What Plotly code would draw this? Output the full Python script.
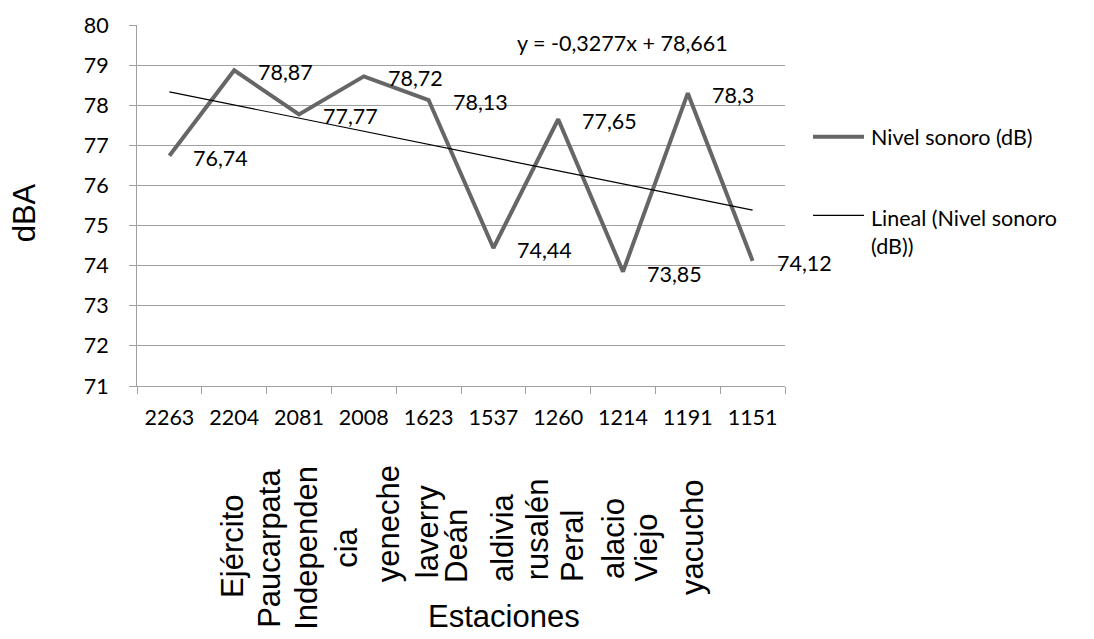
import plotly.graph_objects as go

# Noise level per monitoring station
stations = ["2263", "2204", "2081", "2008", "1623", "1537", "1260", "1214", "1191", "1151"]
nivel_db = [76.74, 78.87, 77.77, 78.72, 78.13, 74.44, 77.65, 73.85, 78.3, 74.12]

# Linear trend (x = 1..n) as reported on the chart
trend_slope = -0.3277
trend_intercept = 78.661

# Station names printed under the axis (as they appear, cut by the label box)
station_names = ["Ejército", "Paucarpata", "Independen<br>cia", "yeneche", "laverry", "Deán",
                 "aldivia", "rusalén", "Peral", "alacio", "Viejo", "yacucho"]
name_x_px = [233, 270, 327, 388, 427, 457, 502, 537, 573, 613, 647, 692]
name_y_px = [550, 552, 551, 527, 534, 549, 540, 532, 549, 542, 551, 541]

W, H = 1094, 639
PL, PR, PT, PB = 137, 785, 18, 386  # plot area in pixels


def px_x(p):
    return (p - PL) / (PR - PL)


def px_y(p):
    return (PB - p) / (PB - PT)


CAL = "Lato"
ARIAL = "Liberation Sans"
LINE_GRAY = "#666666"
GRID_GRAY = "#a0a0a0"

idx = list(range(len(stations)))
trend_y = [trend_slope * (k + 1) + trend_intercept for k in idx]

fig = go.Figure()
fig.add_trace(go.Scatter(x=stations, y=nivel_db, mode="lines",
                         line=dict(color=LINE_GRAY, width=4),
                         name="Nivel sonoro (dB)", showlegend=False))
fig.add_trace(go.Scatter(x=stations, y=trend_y, mode="lines",
                         line=dict(color="black", width=1.2),
                         name="Lineal (Nivel sonoro (dB))", showlegend=False))

annotations = []
# value labels to the right of each point
for i, v in zip(idx, nivel_db):
    annotations.append(dict(x=i, y=v, xref="x", yref="y", text=str(v).replace(".", ","),
                            showarrow=False, xanchor="left", yanchor="middle",
                            xshift=22, yshift=-2, font=dict(family=CAL, size=21.5, color="black")))

# trend equation
eq = f"y = {trend_slope:.4f}x + {trend_intercept:.3f}".replace(".", ",")
annotations.append(dict(x=px_x(622), y=px_y(36), xref="paper", yref="paper", text=eq,
                        showarrow=False, xanchor="center", yanchor="middle",
                        font=dict(family=CAL, size=21.5, color="black")))

# station names (rotated)
for name, xp, yp in zip(station_names, name_x_px, name_y_px):
    annotations.append(dict(x=px_x(xp), y=px_y(yp), xref="paper", yref="paper", text=name,
                            showarrow=False, textangle=-90, xanchor="center", yanchor="middle",
                            align="center", font=dict(family=ARIAL, size=31, color="black")))

# axis titles
annotations.append(dict(x=px_x(504), y=px_y(621), xref="paper", yref="paper", text="Estaciones",
                        showarrow=False, xanchor="center", yanchor="middle",
                        font=dict(family=ARIAL, size=31, color="black")))
annotations.append(dict(x=px_x(24), y=px_y(210), xref="paper", yref="paper", text="dBA",
                        showarrow=False, textangle=-90, xanchor="center", yanchor="middle",
                        font=dict(family=ARIAL, size=31, color="black")))

# legend
annotations.append(dict(x=px_x(869), y=px_y(132), xref="paper", yref="paper",
                        text="Nivel sonoro (dB)", showarrow=False, xanchor="left", yanchor="middle",
                        align="left", font=dict(family=CAL, size=21.5, color="black")))
annotations.append(dict(x=px_x(869), y=px_y(229), xref="paper", yref="paper",
                        text="Lineal (Nivel sonoro<br>(dB))", showarrow=False, xanchor="left",
                        yanchor="middle", align="left",
                        font=dict(family=CAL, size=21.5, color="black")))
shapes = [
    dict(type="line", xref="paper", yref="paper", x0=px_x(813), x1=px_x(864),
         y0=px_y(132), y1=px_y(132), line=dict(color=LINE_GRAY, width=4)),
    dict(type="line", xref="paper", yref="paper", x0=px_x(813), x1=px_x(864),
         y0=px_y(212), y1=px_y(212), line=dict(color="black", width=1.2)),
]

fig.update_layout(
    width=W, height=H,
    margin=dict(l=PL, r=W - PR, t=PT, b=H - PB),
    paper_bgcolor="white", plot_bgcolor="white",
    annotations=annotations, shapes=shapes,
    xaxis=dict(type="category", categoryorder="array", categoryarray=stations,
               range=[-0.5, len(stations) - 0.5], autorange=False,
               tickson="boundaries", ticks="outside", ticklen=7, tickcolor=GRID_GRAY,
               showline=True, linecolor=GRID_GRAY, linewidth=1, showgrid=False,
               tickangle=0, ticklabelstandoff=12,
               tickfont=dict(family=CAL, size=21.5, color="black"),
               fixedrange=True),
    yaxis=dict(range=[71, 80], dtick=1, tick0=71, ticks="outside", ticklen=7,
               tickcolor=GRID_GRAY, showline=True, linecolor=GRID_GRAY, linewidth=1,
               showgrid=True, gridcolor=GRID_GRAY, gridwidth=1, zeroline=False,
               ticklabelstandoff=16, tickfont=dict(family=CAL, size=21.5, color="black"),
               fixedrange=True),
    showlegend=False,
)

fig.write_html("out.html", config=dict(displayModeBar=False))
